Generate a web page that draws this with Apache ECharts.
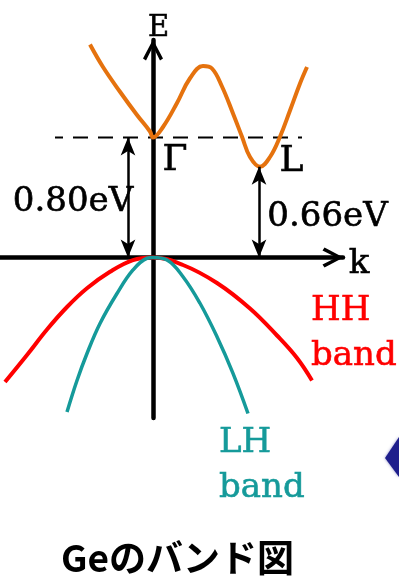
<!DOCTYPE html>
<html><head><meta charset="utf-8">
<script src="https://cdn.jsdelivr.net/npm/echarts@6/dist/echarts.min.js"></script>
<style>html,body{margin:0;padding:0;background:#fff}#c{width:399px;height:577px}</style>
</head><body><div id="c"></div>
<script>
// Conduction band (orange): wave vector k and energy E (eV)
const cbK = [-0.63,-0.50,-0.33,-0.16,-0.03,0,0.10,0.24,0.37,0.50,0.59,0.69,0.80,0.89,0.97,1.07,1.17,1.27,1.37,1.47,1.54];
const cbE = [1.42,1.27,1.105,0.95,0.84,0.80,0.87,1.03,1.195,1.277,1.26,1.14,0.96,0.805,0.67,0.605,0.67,0.805,0.98,1.16,1.27];
// Heavy-hole band (red)
const hhK = [-1.48,-1.26,-1.06,-0.86,-0.66,-0.43,-0.20,0,0.30,0.64,0.97,1.24,1.44,1.59];
const hhE = [-0.83,-0.65,-0.48,-0.33,-0.205,-0.095,-0.017,0,-0.05,-0.17,-0.34,-0.52,-0.67,-0.82];
// Light-hole band (teal)
const lhK = [-0.86,-0.76,-0.66,-0.53,-0.36,-0.20,-0.06,0,0.14,0.30,0.47,0.64,0.80,0.95];
const lhE = [-1.03,-0.82,-0.64,-0.44,-0.24,-0.083,-0.005,0,-0.017,-0.128,-0.305,-0.528,-0.772,-1.04];
// Gap reference (dashed) line and gap arrows
const gapLineK = [-0.98, 1.49];
const gammaGap = 0.80;     // Γ valley energy
const lGap = 0.605;        // L valley energy (as drawn)
const gammaArrowK = -0.25;
const lArrowK = 1.06;
// Texts
const axisE = 'E', axisK = 'k', labGamma = 'Γ', labL = 'L';
const gammaGapText = '0.80eV', lGapText = '0.66eV';
const hhText = ['HH', 'band'], lhText = ['LH', 'band'];
const titleText = 'Geのバンド図';

const zip = (a, b) => a.map((v, i) => [v, b[i]]);
const chevron = 'path://M10,0 L20,19 L17,21 L10,7 L3,21 L0,19 Z';
const serif = '"DejaVu Serif", serif';

const chart = echarts.init(document.getElementById('c'), null, {renderer: 'canvas'});
const axisCommon = {
  type: 'value',
  axisTick: {show: false}, axisLabel: {show: false}, splitLine: {show: false},
  axisLine: {onZero: true, symbol: ['none', chevron], symbolSize: [20, 21], symbolOffset: [0, -10],
    lineStyle: {color: '#000', width: 4.5}}
};
function txt(x, y, text, size, color, align) {
  return {type: 'text', x: x, y: y, style: {text: text, font: size + 'px ' + serif, fill: color,
    stroke: color, lineWidth: 0.6, textAlign: align || 'center', textVerticalAlign: 'middle'}};
}
chart.setOption({
  animation: false,
  backgroundColor: '#fff',
  grid: {left: 0, top: 40, width: 343, height: 378, outerBoundsMode: 'none', containLabel: false},
  xAxis: Object.assign({}, axisCommon, {min: -1.53, max: 1.90}),
  yAxis: Object.assign({}, axisCommon, {min: -1.07, max: 1.45}),
  series: [
    {type: 'line', data: zip(gapLineK, [gammaGap, gammaGap]), symbol: 'none', silent: true,
      lineStyle: {color: '#000', width: 2, type: [15, 10], dashOffset: 7}, z: 1,
      markLine: {silent: true, symbol: ['arrow', 'arrow'], symbolSize: [11, 18], animation: false,
        label: {show: false}, lineStyle: {color: '#000', width: 2.5, type: 'solid'},
        data: [
          [{coord: [gammaArrowK, 0]}, {coord: [gammaArrowK, gammaGap]}],
          [{coord: [lArrowK, 0]}, {coord: [lArrowK, lGap]}]
        ]}},
    {type: 'line', data: zip(hhK, hhE), smooth: 0.4, symbol: 'none', silent: true,
      lineStyle: {color: '#ff0000', width: 4}},
    {type: 'line', data: zip(lhK, lhE), smooth: 0.4, symbol: 'none', silent: true,
      lineStyle: {color: '#159a9a', width: 3.5}},
    {type: 'line', data: zip(cbK, cbE), smooth: 0.4, symbol: 'none', silent: true,
      lineStyle: {color: '#e5720e', width: 4}}
  ],
  graphic: [
    txt(158.5, 28, axisE, 29, '#000'),
    txt(359, 264, axisK, 34, '#000'),
    txt(175, 161, labGamma, 36, '#000'),
    txt(291.5, 161.5, labL, 36, '#000'),
    txt(73, 202.5, gammaGapText, 34, '#000'),
    txt(327.5, 217.5, lGapText, 34, '#000'),
    txt(311, 311.5, hhText[0], 34, '#ff0000', 'left'),
    txt(311, 356, hhText[1], 34, '#ff0000', 'left'),
    txt(219, 443.5, lhText[0], 34, '#159a9a', 'left'),
    txt(219, 488.5, lhText[1], 34, '#159a9a', 'left'),
    {type: 'text', x: 177.5, y: 557.5, style: {text: titleText, font: 'bold 37px "Noto Sans CJK JP", sans-serif', fill: '#000', textAlign: 'center', textVerticalAlign: 'middle'}},
    {type: 'polygon', shape: {points: [[385, 458], [399, 437], [399, 477]]}, style: {fill: '#1e1e8c', shadowBlur: 3, shadowColor: 'rgba(30,30,140,0.5)'}}
  ]
});
</script></body></html>
